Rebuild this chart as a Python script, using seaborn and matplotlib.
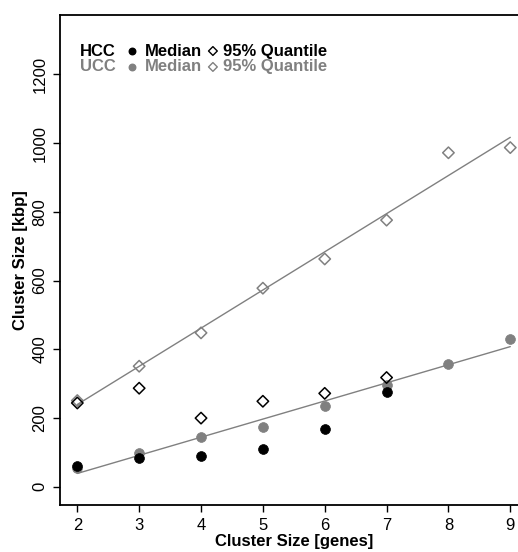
import matplotlib
matplotlib.use("Agg")
import matplotlib.pyplot as plt
import seaborn as sns
import pandas as pd

# Cluster sizes (genes) and cluster extents (kbp)
genes_hcc = [2, 3, 4, 5, 6, 7]
hcc_median = [60, 83, 91, 109, 169, 277]
hcc_q95 = [244, 287, 200, 249, 272, 318]

genes_ucc = [2, 3, 4, 5, 6, 7, 8, 9]
ucc_median = [55, 98, 144, 175, 235, 295, 356, 430]
ucc_q95 = [251, 351, 448, 578, 663, 776, 972, 987]

x_ticks = [2, 3, 4, 5, 6, 7, 8, 9]
y_ticks = [0, 200, 400, 600, 800, 1000, 1200]

GREY = "#808080"
BLACK = "#000000"
FS = 12

sns.set_theme(style="white")
plt.rcParams["font.family"] = ["Liberation Sans", "DejaVu Sans"]
plt.rcParams.update({"text.color": BLACK, "axes.labelcolor": BLACK,
                     "xtick.color": BLACK, "ytick.color": BLACK})

hcc = pd.DataFrame({"genes": genes_hcc, "median": hcc_median, "q95": hcc_q95})
ucc = pd.DataFrame({"genes": genes_ucc, "median": ucc_median, "q95": ucc_q95})

fig = plt.figure(figsize=(5.18, 5.52), dpi=100)
ax = fig.add_axes([60 / 518, 47 / 552, 467.6 / 518, 490 / 552])

# Linear trends through the UCC series
sns.regplot(data=ucc, x="genes", y="q95", ax=ax, scatter=False, ci=None,
            line_kws=dict(color=GREY, lw=1.0))
sns.regplot(data=ucc, x="genes", y="median", ax=ax, scatter=False, ci=None,
            line_kws=dict(color=GREY, lw=1.0))

# UCC points (grey), then HCC points (black) on top
sns.scatterplot(data=ucc, x="genes", y="median", ax=ax, color=GREY, marker="o",
                s=50, edgecolor=GREY, linewidth=0.5, zorder=3)
sns.scatterplot(data=ucc, x="genes", y="q95", ax=ax, marker="D", s=34,
                facecolor="none", edgecolor=GREY, linewidth=1.1, zorder=3)
sns.scatterplot(data=hcc, x="genes", y="median", ax=ax, color=BLACK, marker="o",
                s=50, edgecolor=BLACK, linewidth=0.5, zorder=4)
sns.scatterplot(data=hcc, x="genes", y="q95", ax=ax, marker="D", s=34,
                facecolor="none", edgecolor=BLACK, linewidth=1.1, zorder=4)

ax.set_xlim(1.72, 9.28)
ax.set_ylim(-52.8, 1372.8)
ax.set_xticks(x_ticks)
ax.set_xticklabels([str(v) for v in x_ticks], fontsize=FS, color=BLACK)
ax.set_yticks(y_ticks)
ax.set_yticklabels([str(v) for v in y_ticks], fontsize=FS, rotation=90,
                   va="center", color=BLACK)
ax.tick_params(axis="both", direction="out", length=5, width=1, color=BLACK,
               labelcolor=BLACK, bottom=True, left=True, pad=4)

for side in ["left", "bottom", "top"]:
    ax.spines[side].set_color(BLACK)
    ax.spines[side].set_linewidth(1.3)
ax.spines["right"].set_visible(False)

ax.set_xlabel("Cluster Size [genes]", fontsize=FS, fontweight="bold",
              labelpad=1, color=BLACK)
ax.set_ylabel("Cluster Size [kbp]", fontsize=FS, fontweight="bold",
              labelpad=3, color=BLACK)

# Legend built from text and marker glyphs
rows = [("HCC", BLACK, 0.9265), ("UCC", GREY, 0.894)]
for name, col, yy in rows:
    ax.text(0.0428, yy, name, transform=ax.transAxes, color=col, fontsize=FS,
            fontweight="bold", va="center", ha="left")
    ax.scatter([0.154], [yy], transform=ax.transAxes, s=22, marker="o",
               color=col, edgecolor=col, clip_on=False, zorder=5)
    ax.text(0.182, yy, "Median", transform=ax.transAxes, color=col, fontsize=FS,
            fontweight="bold", va="center", ha="left")
    ax.scatter([0.327], [yy], transform=ax.transAxes, s=20, marker="D",
               facecolor="none", edgecolor=col, linewidth=1.0, clip_on=False, zorder=5)
    ax.text(0.349, yy, "95% Quantile", transform=ax.transAxes, color=col,
            fontsize=FS, fontweight="bold", va="center", ha="left")

fig.savefig("out.png", dpi=100)
